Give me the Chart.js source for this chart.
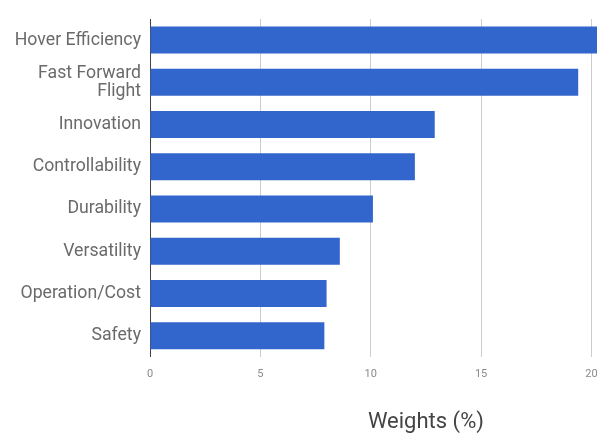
<!DOCTYPE html>
<html>
<head>
<meta charset="utf-8">
<script src="https://cdn.jsdelivr.net/npm/chart.js@4"></script>
<style>
    html, body { margin: 0; padding: 0; overflow: hidden; background: #fff; }
    #wrap { width: 597px; height: 433px; overflow: hidden; }
</style>
</head>
<body>
<div id="wrap">
    <canvas id="chart" width="719" height="433"></canvas>
</div>
<script>
// dados do gráfico
const categories = ["Hover Efficiency", ["Fast Forward", "Flight"], "Innovation", "Controllability",
    "Durability", "Versatility", "Operation/Cost", "Safety"];
const weights = [21.6, 19.4, 12.9, 12.0, 10.1, 8.6, 8.0, 7.9];
const xTicks = [0, 5, 10, 15, 20, 25];

const ctx = document.getElementById('chart').getContext('2d');
const chart = new Chart(ctx, {
    type: 'bar',
    data: {
        labels: categories,
        datasets: [{
            label: "Weights (%)",
            data: weights,
            backgroundColor: "#3366cc",
            borderColor: "#3366cc",
            barPercentage: 0.8,
            categoryPercentage: 0.8
        }]
    },
    options: {
        indexAxis: 'y',
        responsive: false,
        animation: false,
        layout: { padding: { top: 19, right: 11, bottom: 0, left: 0 } },
        plugins: {
            legend: { display: false },
            tooltip: { enabled: false }
        },
        scales: {
            x: {
                min: xTicks[0],
                max: xTicks[xTicks.length - 1],
                afterBuildTicks: (scale) => { scale.ticks = xTicks.map(v => ({ value: v })); },
                grid: { color: "#cccccc", drawTicks: false },
                border: { display: false },
                ticks: {
                    padding: 11,
                    color: "#8a8a8a",
                    font: { family: "Roboto", size: 11 }
                },
                title: {
                    display: true,
                    text: "Weights (%)",
                    color: "#444444",
                    font: { family: "Roboto", size: 22, lineHeight: 1.0 },
                    padding: { top: 19, bottom: 0 }
                }
            },
            y: {
                grid: { display: false, drawTicks: false },
                border: { display: true, color: "#444444", width: 1 },
                afterFit: (scale) => { scale.width = 150; },
                ticks: {
                    padding: 9,
                    color: "#6a6a6a",
                    font: { family: "Roboto", size: 17.7, lineHeight: 1.0 }
                }
            }
        }
    }
});
</script>
</body>
</html>
